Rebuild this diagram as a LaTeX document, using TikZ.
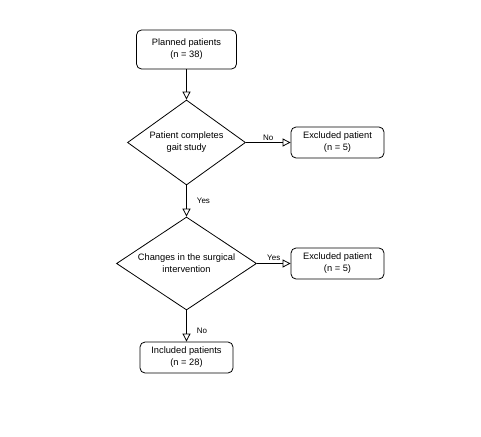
\documentclass[tikz,border=0pt]{standalone}
\usepackage{fontspec}
\setmainfont{Liberation Sans}
\usetikzlibrary{shapes.geometric,arrows.meta}
\tikzset{
  box/.style={draw, rounded corners=5pt, line width=0.8pt, align=center, inner sep=0pt,
    font=\fontsize{9.3pt}{12pt}\selectfont},
  decision/.style={draw, diamond, line width=0.8pt, align=center, inner sep=0pt,
    font=\fontsize{9.3pt}{12pt}\selectfont},
  flow/.style={line width=0.8pt, -{Triangle[open, length=8pt, width=8pt]}},
  lbl/.style={font=\fontsize{8pt}{9pt}\selectfont, inner sep=1pt}
}
\begin{document}
\begin{tikzpicture}[x=1pt,y=-1pt]
\useasboundingbox (0,0) rectangle (481,436);
\node[box, minimum width=100pt, minimum height=39pt] (plan) at (186.5,49.5) {Planned patients\\(n = 38)};
\node[decision, aspect=1.39, minimum width=118pt, minimum height=85pt] (d1) at (186.5,142.5) {Patient completes\\gait study};
\node[box, minimum width=93pt, minimum height=31pt] (ex1) at (337.5,142.5) {Excluded patient\\(n = 5)};
\node[decision, aspect=1.505, minimum width=140pt, minimum height=93pt] (d2) at (186.5,263.5) {Changes in the surgical\\intervention};
\node[box, minimum width=93pt, minimum height=31pt] (ex2) at (337.5,263.5) {Excluded patient\\(n = 5)};
\node[box, minimum width=93pt, minimum height=31pt] (inc) at (186.5,357.5) {Included patients\\(n = 28)};
\draw[flow] (plan) -- (d1);
\draw[flow] (d1) -- node[lbl, above, yshift=1pt] {No} (ex1);
\draw[flow] (d1) -- node[lbl, right, xshift=9pt] {Yes} (d2);
\draw[flow] (d2) -- node[lbl, above, yshift=1.5pt] {Yes} (ex2);
\draw[flow] (d2) -- node[lbl, right, xshift=9pt, pos=0.65] {No} (inc);
\end{tikzpicture}
\end{document}
